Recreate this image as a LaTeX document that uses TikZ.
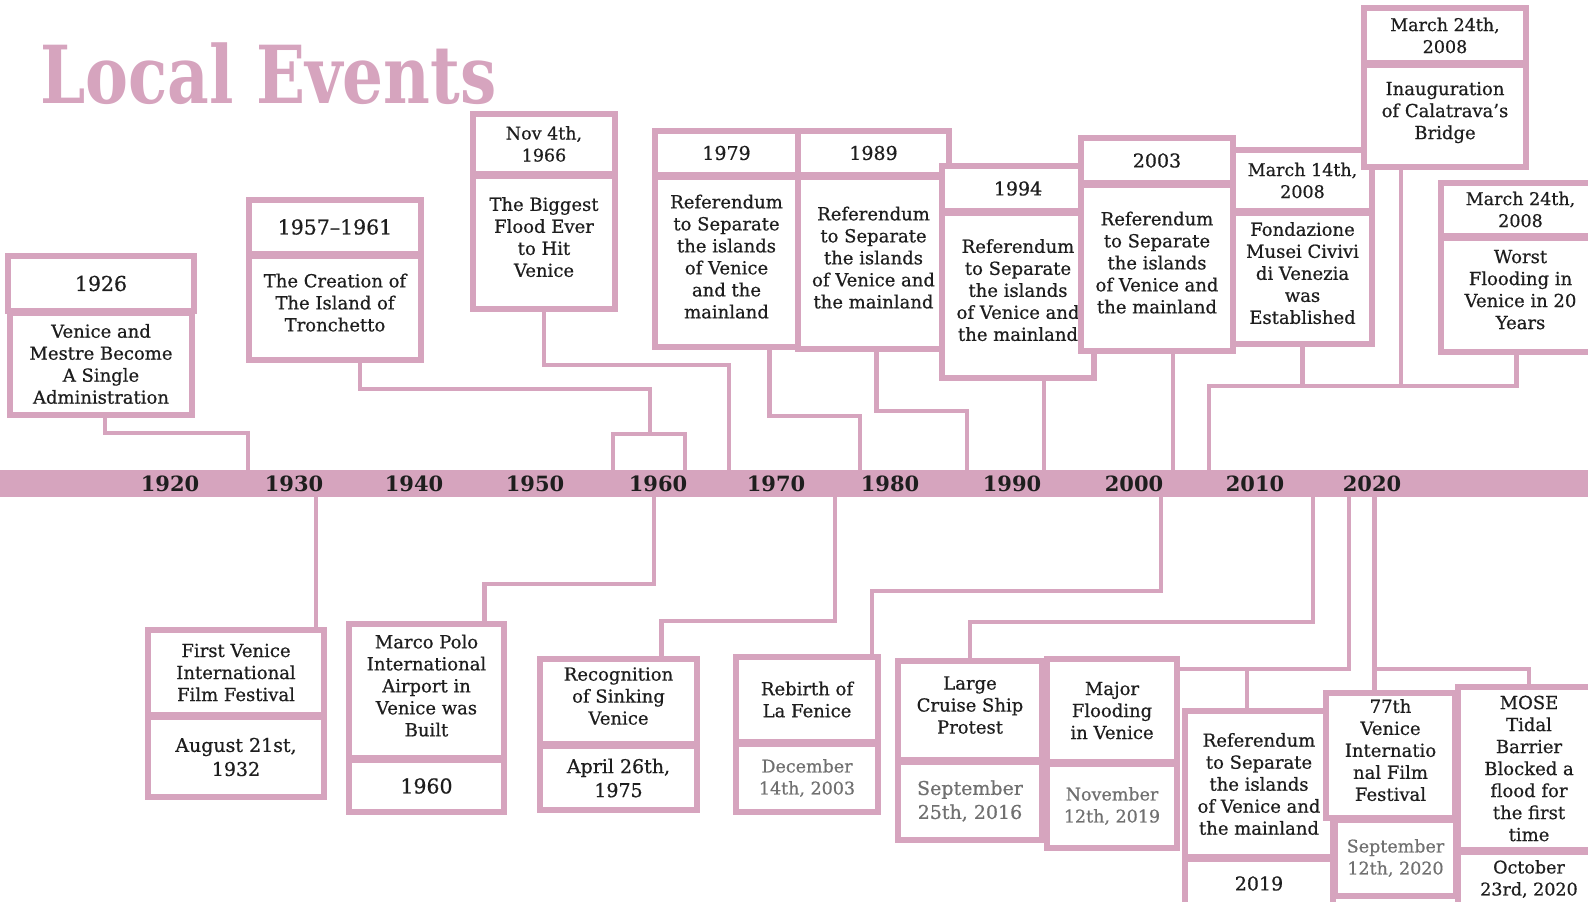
\documentclass[tikz,border=0pt]{standalone}
\usepackage{fontspec}
\setmainfont{DejaVu Serif}[UprightFeatures={FakeBold=0.6}]
\definecolor{rose}{RGB}{214,164,190}
\definecolor{ink}{RGB}{30,30,30}
\definecolor{mute}{RGB}{112,112,112}
\begin{document}
\begin{tikzpicture}[x=1pt,y=-1pt,
  bx/.style={draw=rose, line width=5.5pt, fill=white, anchor=north west,
    inner sep=2pt, outer sep=0pt, align=center, text=ink,
    font=\fontsize{18}{22}\selectfont},
  boxat/.style n args={4}{at={(#1,#2)}, minimum width={#3-#1}, minimum height={#4-#2}},
  lift/.style={text depth=11pt},
  fhead/.style={font=\fontsize{17.5}{22}\selectfont},
  fbig/.style={font=\fontsize{20.5}{24}\selectfont},
  fmid/.style={font=\fontsize{19}{24}\selectfont},
  fgrey/.style={text=mute},
  conn/.style={draw=rose, line width=4.5pt},
  yr/.style={font=\bfseries\fontsize{21}{24}\selectfont, text=ink, inner sep=0pt}]
\useasboundingbox (0,0) rectangle (1588,902);
\clip (0,0) rectangle (1588,902);

% title
\node[anchor=base west, inner sep=0pt, text=rose,
  font=\bfseries\fontsize{80}{80}\selectfont] (title) at (40,103)
  {\scalebox{0.805}[1]{Local Events}};

% time axis
\node[fill=rose, minimum width=1588pt, minimum height=27pt, inner sep=0pt,
  outer sep=0pt, anchor=north west] (axis) at (0,470) {};
\node[yr] (y1920) at (170,484) {1920};
\node[yr] (y1930) at (294,484) {1930};
\node[yr] (y1940) at (414,484) {1940};
\node[yr] (y1950) at (535,484) {1950};
\node[yr] (y1960) at (658,484) {1960};
\node[yr] (y1970) at (776,484) {1970};
\node[yr] (y1980) at (890,484) {1980};
\node[yr] (y1990) at (1012,484) {1990};
\node[yr] (y2000) at (1134,484) {2000};
\node[yr] (y2010) at (1255,484) {2010};
\node[yr] (y2020) at (1372,484) {2020};

% events above the axis
\node[bx, boxat={8}{256}{194}{311}, fbig] (h1926) {1926};
\node[bx, boxat={10}{313}{192}{415}] (b1926) {Venice and\\Mestre Become\\A Single\\Administration};
\node[bx, boxat={249}{200}{421}{254}, fbig] (h1957) {1957–1961};
\node[bx, boxat={249}{256}{421}{360}, lift] (b1957) {The Creation of\\The Island of\\Tronchetto};
\node[bx, boxat={473}{114}{615}{174}, fhead] (hNov) {Nov 4th,\\1966};
\node[bx, boxat={473}{176}{615}{309}, lift] (bNov) {The Biggest\\Flood Ever\\to Hit\\Venice};
\node[bx, boxat={655}{131}{798}{175}, fmid] (h1979) {1979};
\node[bx, boxat={655}{177}{798}{347}, lift] (b1979) {Referendum\\to Separate\\the islands\\of Venice\\and the\\mainland};
\node[bx, boxat={798}{131}{949}{175}, fmid] (h1989) {1989};
\node[bx, boxat={798}{177}{949}{349}, lift] (b1989) {Referendum\\to Separate\\the islands\\of Venice and\\the mainland};
\node[bx, boxat={942}{166}{1094}{211}, fmid] (h1994) {1994};
\node[bx, boxat={942}{213}{1094}{378}, lift] (b1994) {Referendum\\to Separate\\the islands\\of Venice and\\the mainland};
\node[bx, boxat={1081}{138}{1233}{183}, fmid] (h2003) {2003};
\node[bx, boxat={1081}{185}{1233}{351}, lift] (b2003) {Referendum\\to Separate\\the islands\\of Venice and\\the mainland};
\node[bx, boxat={1233}{150}{1372}{211}, fhead] (hM14) {March 14th,\\2008};
\node[bx, boxat={1233}{213}{1372}{344}, lift] (bM14) {Fondazione\\Musei Civivi\\di Venezia\\was\\Established};
\node[bx, boxat={1364}{8}{1526}{63}, fhead] (hCal) {March 24th,\\2008};
\node[bx, boxat={1364}{65}{1526}{167}, lift] (bCal) {Inauguration\\of Calatrava’s\\Bridge};
\node[bx, boxat={1441}{183}{1600}{236}, fhead] (hWorst) {March 24th,\\2008};
\node[bx, boxat={1441}{238}{1600}{352}, lift] (bWorst) {Worst\\Flooding in\\Venice in 20\\Years};

% events below the axis
\node[bx, boxat={148}{630}{324}{715}] (tFilm) {First Venice\\International\\Film Festival};
\node[bx, boxat={148}{717}{324}{797}, fmid] (dFilm) {August 21st,\\1932};
\node[bx, boxat={349}{624}{504}{758}, lift] (tMarco) {Marco Polo\\International\\Airport in\\Venice was\\Built};
\node[bx, boxat={349}{760}{504}{812}, fbig] (dMarco) {1960};
\node[bx, boxat={540}{659}{697}{744}, lift] (tRec) {Recognition\\of Sinking\\Venice};
\node[bx, boxat={540}{746}{697}{810}, fmid] (dRec) {April 26th,\\1975};
\node[bx, boxat={736}{657}{878}{742}] (tFen) {Rebirth of\\La Fenice};
\node[bx, boxat={736}{744}{878}{812}, fhead, fgrey] (dFen) {December\\14th, 2003};
\node[bx, boxat={898}{661}{1042}{760}, lift] (tCru) {Large\\Cruise Ship\\Protest};
\node[bx, boxat={898}{762}{1042}{840}, fmid, fgrey] (dCru) {September\\25th, 2016};
\node[bx, boxat={1047}{659}{1177}{762}] (tMaj) {Major\\Flooding\\in Venice};
\node[bx, boxat={1047}{764}{1177}{848}, fhead, fgrey] (dMaj) {November\\12th, 2019};
\node[bx, boxat={1185}{711}{1333}{857}] (tRef19) {Referendum\\to Separate\\the islands\\of Venice and\\the mainland};
\node[bx, boxat={1185}{859}{1333}{908}, fmid] (dRef19) {2019};
\node[bx, boxat={1326}{693}{1455}{818}, lift] (t77) {77th\\Venice\\Internatio\\nal Film\\Festival};
\node[bx, boxat={1335}{820}{1456}{896}, fhead, fgrey] (d77) {September\\12th, 2020};
\node[bx, boxat={1458}{687}{1600}{850}] (tMose) {MOSE\\Tidal\\Barrier\\Blocked a\\flood for\\the first\\time};
\node[bx, boxat={1458}{852}{1600}{906}, fhead] (dMose) {October\\23rd, 2020};

% connectors above the axis
\coordinate (p1926) at ([xshift=4pt]b1926.south);
\draw[conn] (p1926) |- (248,433) -- (248,0 |- axis.north);
\coordinate (p1957) at ([xshift=25pt]b1957.south);
\draw[conn] (p1957) |- (650,389) -- (650,434);
\draw[conn] (613,0 |- axis.north) |- (685,434) -- (685,0 |- axis.north);
\draw[conn] (bNov.south) |- (729,365) -- (729,0 |- axis.north);
\coordinate (p1979) at ([xshift=43pt]b1979.south);
\draw[conn] (p1979) |- (860,416) -- (860,0 |- axis.north);
\coordinate (p1989) at ([xshift=3pt]b1989.south);
\draw[conn] (p1989) |- (967,411) -- (967,0 |- axis.north);
\coordinate (p1994) at ([xshift=26pt]b1994.south);
\draw[conn] (p1994) -- (p1994 |- axis.north);
\coordinate (p2003) at ([xshift=16pt]b2003.south);
\draw[conn] (p2003) -- (p2003 |- axis.north);
\coordinate (g08) at (1209,386);
\coordinate (pCal) at ([xshift=-44pt]bCal.south);
\coordinate (pWorst) at ([xshift=-4pt]bWorst.south);
\draw[conn] (pWorst) |- (g08) -- (g08 |- axis.north);
\draw[conn] (bM14.south) -- (bM14.south |- g08);
\draw[conn] (pCal) -- (pCal |- g08);

% connectors below the axis
\coordinate (pFilm) at ([xshift=80pt]tFilm.north);
\draw[conn] (pFilm) -- (pFilm |- axis.south);
\coordinate (pMarco) at ([xshift=58pt]tMarco.north);
\draw[conn] (pMarco) |- (654,584) -- (654,0 |- axis.south);
\coordinate (pRec) at ([xshift=43pt]tRec.north);
\draw[conn] (pRec) |- (835,621) -- (835,0 |- axis.south);
\coordinate (pFen) at ([xshift=65pt]tFen.north);
\draw[conn] (pFen) |- (1161,591) -- (1161,0 |- axis.south);
\draw[conn] (tCru.north) |- (1313,622) -- (1313,0 |- axis.south);
\coordinate (j19) at (1349,669);
\draw[conn] (tMaj.east |- j19) -- (j19) -- (j19 |- axis.south);
\coordinate (pRef) at ([xshift=-12pt]tRef19.north);
\draw[conn] (pRef) -- (pRef |- j19);
\coordinate (p77) at ([xshift=-16pt]t77.north);
\draw[conn] (p77) -- (p77 |- axis.south);
\draw[conn] (tMose.north) |- (p77 |- j19);
\end{tikzpicture}
\end{document}
